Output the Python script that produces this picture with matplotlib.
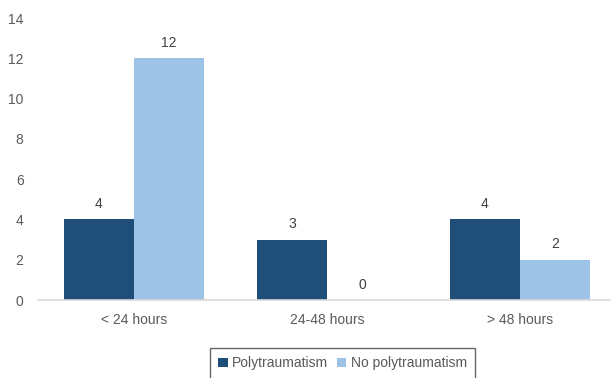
import numpy as np
import matplotlib
matplotlib.use("Agg")
from matplotlib import pyplot as plt

plt.rcParams["font.family"] = ["Liberation Sans", "DejaVu Sans"]

categories = ["< 24 hours", "24-48 hours", "> 48 hours"]
poly = [4, 3, 4]
no_poly = [12, 0, 2]
series_names = ["Polytraumatism", "No polytraumatism"]

dark = "#1F4E79"
light = "#9DC3E6"
textcol = "#595959"

fig = plt.figure(figsize=(6.11, 3.78), dpi=100)
ax = fig.add_axes([37.5 / 611, 1 - 300 / 378, 579 / 611, 282 / 378])

x = np.arange(len(categories))
w = 0.363
b1 = ax.bar(x - w / 2, poly, w, color=dark, label=series_names[0])
b2 = ax.bar(x + w / 2, no_poly, w, color=light, label=series_names[1])

for bars in (b1, b2):
    for r in bars:
        ax.annotate(
            "{:d}".format(int(r.get_height())),
            (r.get_x() + r.get_width() / 2, r.get_height()),
            xytext=(0, 6),
            textcoords="offset points",
            ha="center",
            va="bottom",
            fontsize=10,
            color="#404040",
        )

ax.set_xlim(-0.5, 2.5)
ax.set_ylim(0, 14)
ax.set_yticks(range(0, 15, 2))
ax.set_xticks(x)
ax.set_xticklabels(categories)
ax.tick_params(axis="both", length=0, labelsize=10, colors=textcol)
ax.tick_params(axis="x", pad=9)
ax.tick_params(axis="y", pad=10)
for s in ["top", "right", "left"]:
    ax.spines[s].set_visible(False)
ax.spines["bottom"].set_color("#D9D9D9")
ax.spines["bottom"].set_linewidth(1.2)

leg = fig.legend(
    loc="upper left",
    bbox_to_anchor=(210 / 611, 1 - 348 / 378),
    ncol=2,
    frameon=True,
    fancybox=False,
    fontsize=10,
    handlelength=0.7,
    handleheight=0.7,
    handletextpad=0.3,
    columnspacing=0.6,
    borderpad=0.6,
    borderaxespad=0,
)
leg.get_frame().set_edgecolor("#404040")
leg.get_frame().set_linewidth(1.0)
for t in leg.get_texts():
    t.set_color(textcol)

plt.savefig("out.png", dpi=100)
